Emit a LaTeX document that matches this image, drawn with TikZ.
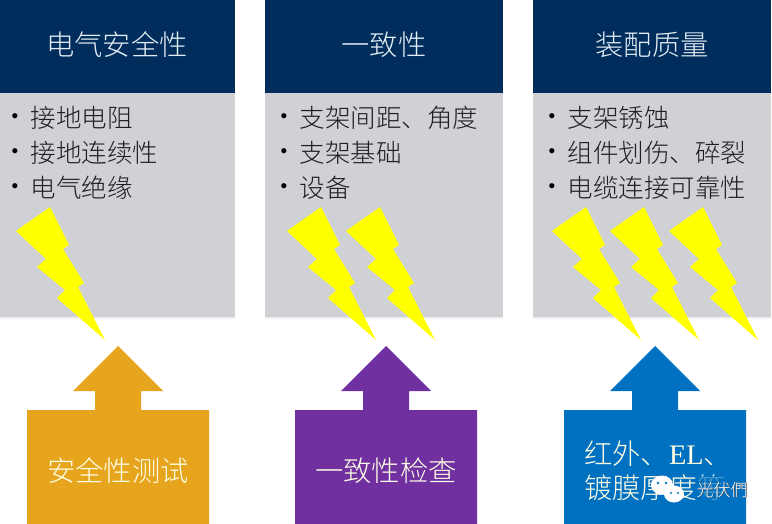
\documentclass[tikz,border=0pt]{standalone}
\usepackage{fontspec}
\setmainfont{Noto Sans CJK SC}[UprightFont=* Light]
\newfontfamily\latinf{Liberation Serif}
\newfontfamily\bulf{Liberation Sans}
\begin{document}
\begin{tikzpicture}[x=1pt,y=-1pt,
  head/.style={text=headtext,font=\fontsize{28.3}{32}\selectfont,inner sep=0pt},
  item/.style={anchor=west,font=\fontsize{25.5}{30}\selectfont,text=black!88,inner sep=0pt},
  bul/.style={anchor=center,font=\bulf\fontsize{19}{19}\selectfont,text=black,inner sep=0pt},
  testbox/.style={text=white!90!yellow,align=left,font=\fontsize{28.3}{34}\selectfont,inner sep=0pt}]
\definecolor{panelgray}{HTML}{CFD1D5}
\definecolor{headblue}{HTML}{002D5B}
\definecolor{headtext}{HTML}{E4EEF6}
\definecolor{orng}{HTML}{E6A51C}
\definecolor{purp}{HTML}{7030A0}
\definecolor{blu}{HTML}{0070C0}
\definecolor{boltyellow}{RGB}{255,255,0}
\useasboundingbox (0,0) rectangle (772,524);
\fill[white] (0,0) rectangle (772,524);
\newcommand{\boltshape}[2]{%
  \fill[boltyellow,shift={(#1,#2)}] (0,0) -- (34,-24) -- (53,14) -- (47,18) -- (68,52) -- (62,56) -- (89,109)
   -- (41,67) -- (49,59) -- (21,36) -- (30,28) -- cycle;}
% panels
\foreach \x/\w in {0/235,265/238,533/238}{
  \fill[panelgray] (\x,90) rectangle (\x+\w,317);
  \fill[black!12,opacity=.5] (\x,317) rectangle (\x+\w,318.5);
}
\fill[headblue] (0,0) rectangle (235,93);
\fill[headblue] (265,0) rectangle (503,93);
\fill[headblue] (533,0) rectangle (771,93);
\node[head] (h1) at (117,45) {电气安全性};
\node[head] (h2) at (384,45) {一致性};
\node[head] (h3) at (652,45) {装配质量};
% lists
\foreach \x/\a/\b/\c in {15/接地电阻/接地连续性/电气绝缘,284/支架间距、角度/支架基础/设备,552/支架锈蚀/组件划伤、碎裂/电缆连接可靠性}{
  \foreach \yy/\t in {118/\a,153/\b,188/\c}{
    \node[bul] at (\x,\yy) {•};
    \node[item] at (\x+15.5,\yy) {\t};
  }
}
% bolts
\boltshape{16}{231}
\boltshape{287}{231}
\boltshape{346}{231}
\boltshape{552}{231}
\boltshape{610}{231}
\boltshape{669}{231}
% arrows
\foreach \x/\c in {118/orng,386/purp,655/blu}{
  \fill[\c] (\x,346) -- (\x+45,391) -- (\x+23,391) -- (\x+23,410) -- (\x+91,410) -- (\x+91,524)
    -- (\x-91,524) -- (\x-91,410) -- (\x-23,410) -- (\x-23,391) -- (\x-45,391) -- cycle;
}
\node[testbox] (t1) at (118,471) {安全性测试};
\node[testbox] (t2) at (386,471) {一致性检查};
\node[testbox,anchor=west] (t3) at (584,470.5) {红外、{\latinf EL}、\\镀膜厚度等};
% watermark
\fill[blu,opacity=.7] (695,476) rectangle (745.5,503);
\fill[white] (662,485) ellipse (11 and 9.5);
\fill[white] (674,494) ellipse (10 and 8.5);
\fill[blu] (658,483) circle (1.3) (666,483) circle (1.3) (671,493) circle (1.1) (678,493) circle (1.1);
\node[font=\fontsize{17}{20}\selectfont,text=white,inner sep=0pt] (wm) at (722,490)
  {\rlap{\kern.8pt\raisebox{-.8pt}{\textcolor{black!70}{光伏們}}}光伏們};
\end{tikzpicture}
\end{document}
